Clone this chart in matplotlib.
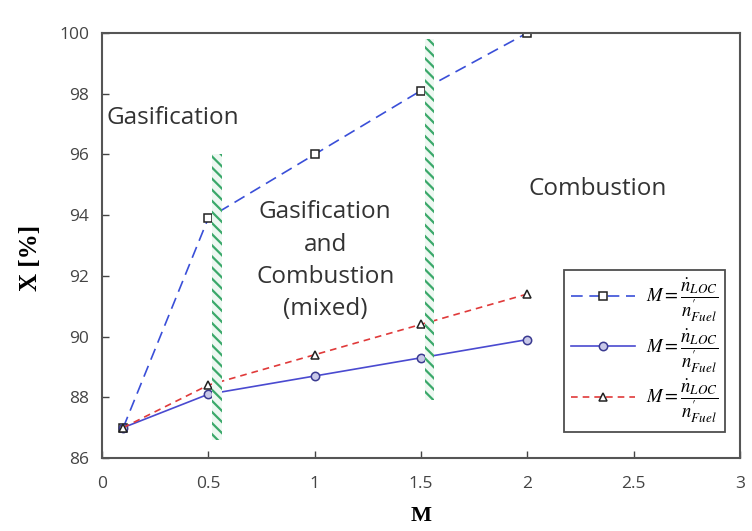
import matplotlib
matplotlib.use("Agg")
import matplotlib.pyplot as plt

# ---- data ----
m_vals = [0.1, 0.5, 1.0, 1.5, 2.0]
x_square = [87.0, 93.9, 96.0, 98.1, 100.0]
x_circle = [87.0, 88.1, 88.7, 89.3, 89.9]
x_triangle = [87.0, 88.4, 89.4, 90.4, 91.4]

divider_x = [0.54, 1.54]
divider_bottom = [86.6, 87.9]
divider_top = [96.0, 99.8]

x_ticks = [0, 0.5, 1, 1.5, 2, 2.5, 3]
x_ticklabels = ['0', '0.5', '1', '1.5', '2', '2.5', '3']
y_ticks = [86, 88, 90, 92, 94, 96, 98, 100]

legend_label = r'$M=\dfrac{\dot{n}_{LOC}}{n^{\prime}_{Fuel}}$'

plt.rcParams['mathtext.fontset'] = 'stix'
plt.rcParams['font.family'] = ['Open Sans', 'DejaVu Sans']
plt.rcParams['hatch.linewidth'] = 1.6

fig = plt.figure(figsize=(7.52, 5.31), dpi=100)
ax = fig.add_axes([0.1356, 0.1375, 0.8484, 0.8005])

# hatched dividers
for xc, yb, yt in zip(divider_x, divider_bottom, divider_top):
    ax.bar(xc, yt - yb, bottom=yb, width=0.045, facecolor='#eef8f2',
           edgecolor='#3aa86a', hatch='\\\\\\', linewidth=0, zorder=3)

ax.plot(m_vals, x_square, linestyle=(0, (7, 4)), color='#3a4fd8', lw=1.2,
        marker='s', markersize=6, markerfacecolor='white',
        markeredgecolor='#222222', markeredgewidth=1.1, label=legend_label, zorder=2)
ax.plot(m_vals, x_circle, linestyle='-', color='#4a4ad0', lw=1.2,
        marker='o', markersize=6, markerfacecolor='#c8c8e8',
        markeredgecolor='#3a3a90', markeredgewidth=1.1, label=legend_label, zorder=2)
ax.plot(m_vals, x_triangle, linestyle=(0, (4, 3)), color='#e03a3a', lw=1.2,
        marker='^', markersize=6, markerfacecolor='white',
        markeredgecolor='#222222', markeredgewidth=1.1, label=legend_label, zorder=2)

ax.set_xlim(0, 3)
ax.set_ylim(86, 100)
ax.set_xticks(x_ticks)
ax.set_xticklabels(x_ticklabels)
ax.set_yticks(y_ticks)
ax.tick_params(direction='in', length=5, width=1, color='#444444',
               labelsize=12.5, labelcolor='#444444', pad=9)
ax.tick_params(axis='x', pad=13)

for s in ax.spines.values():
    s.set_color('#555555')
    s.set_linewidth(1.5)

ax.text(0.022, 97.2, 'Gasification', fontsize=17.5, color='#333333',
        ha='left', va='center')
ax.text(1.05, 92.5, 'Gasification\nand\nCombustion\n(mixed)', fontsize=17.5,
        color='#333333', ha='center', va='center', linespacing=1.45)
ax.text(2.33, 94.85, 'Combustion', fontsize=17.5, color='#333333',
        ha='center', va='center')

ax.set_xlabel('M', fontsize=16, fontweight='bold', family='Liberation Serif')
ax.xaxis.set_label_coords(0.5, -0.112)
ax.set_ylabel('X [%]', fontsize=18, fontweight='bold', family='Liberation Serif')
ax.yaxis.set_label_coords(-0.094, 0.47)

leg = ax.legend(loc='lower right', bbox_to_anchor=(0.976, 0.061), fontsize=13.5,
                frameon=True, fancybox=False, edgecolor='#222222',
                handlelength=3.4, labelspacing=0.15, borderpad=0.35,
                handletextpad=0.6, borderaxespad=0)
leg.get_frame().set_linewidth(1.3)

fig.savefig('out.png', dpi=100)
